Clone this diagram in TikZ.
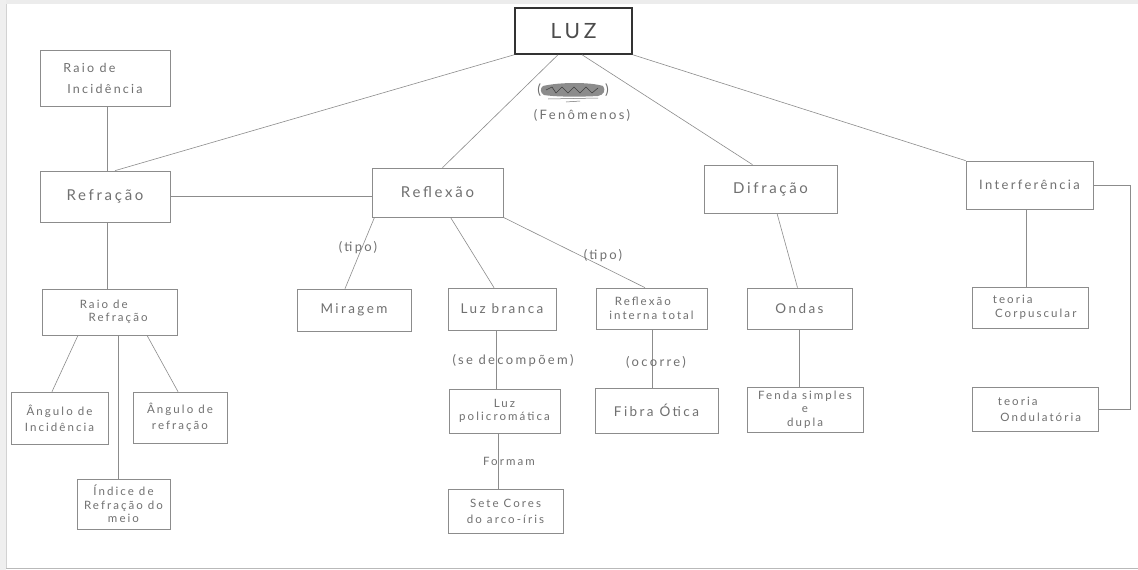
\documentclass[tikz,border=0pt]{standalone}
\usepackage{fontspec}
\setmainfont[LetterSpace=18]{Lato}
\definecolor{ink}{HTML}{707070}
\definecolor{edge}{HTML}{8C8C8C}
\definecolor{frame}{HTML}{E4E4E4}
\begin{document}
\begin{tikzpicture}[x=1pt,y=-1pt,
  box/.style={draw=edge, line width=0.7pt, inner sep=0pt, text=ink, align=center},
  big/.style={font=\fontsize{15}{17}\selectfont},
  mid/.style={font=\fontsize{13.5}{16}\selectfont},
  two/.style={font=\fontsize{11.5}{13.5}\selectfont},
  link/.style={draw=edge, line width=0.6pt},
  lbl/.style={text=ink, font=\fontsize{13}{15}\selectfont, inner sep=1pt}]
% page and scanner frame
\useasboundingbox (0,0) rectangle (1138,570);
\fill[white] (0,0) rectangle (1138,570);
\fill[frame!70] (0,0) rectangle (1138,4);
\fill[frame!60] (0,0) rectangle (6,570);
\draw[gray!35, line width=0.8pt] (6.5,4) -- (6.5,568);
\draw[gray!55, line width=1.2pt] (6,568.8) -- (1138,568.8);

% root
\node[box, draw=black!80, line width=1.5pt, minimum width=117, minimum height=46,
      font=\fontsize{21}{24}\selectfont, text=black!70] (luz) at (573.5,31) {LUZ};

% phenomena
\node[box, font=\fontsize{12.5}{21}\selectfont, minimum width=130, minimum height=56] (rinc) at (105,78) {Raio de\hspace*{2.5em}\\Incidência};
\node[box, big, minimum width=130, minimum height=51] (refr) at (105,196.5) {Refração};
\node[box, big, minimum width=131, minimum height=49] (refl) at (437.5,192.5) {Reflexão};
\node[box, big, minimum width=133, minimum height=48] (difr) at (770.5,189) {Difração};
\node[box, font=\fontsize{13}{15}\selectfont, minimum width=127, minimum height=48] (interf) at (1029.5,185) {Interferência};

% second level
\node[box, two, minimum width=135, minimum height=46] (rrefr) at (109.5,312) {Raio de\hspace*{1em}\\\hspace*{1.5em}Refração};
\node[box, mid, minimum width=114, minimum height=42] (mirag) at (354,310) {Miragem};
\node[box, mid, minimum width=108, minimum height=42] (lbranca) at (502,309) {Luz branca};
\node[box, two, minimum width=111, minimum height=41] (rit) at (651.5,308.5) {Reflexão\hspace*{1.5em}\\interna total};
\node[box, mid, minimum width=105, minimum height=41] (ondas) at (799.5,308.5) {Ondas};
\node[box, two, minimum width=116, minimum height=41] (tcorp) at (1030,307.5) {teoria\hspace*{3em}\\\hspace*{1em}Corpuscular};

% third level
\node[box, font=\fontsize{11.5}{16}\selectfont, minimum width=97, minimum height=52] (ainc) at (59.5,418) {Ângulo de\\Incidência};
\node[box, font=\fontsize{11.5}{16}\selectfont, minimum width=94, minimum height=51] (aref) at (180,417.5) {Ângulo de\\refração};
\node[box, two, minimum width=93, minimum height=50] (indice) at (123.5,504) {Índice de\\Refração do\\meio};
\node[box, two, minimum width=111, minimum height=44] (lpoli) at (504.5,411) {Luz\\policromática};
\node[box, mid, minimum width=123, minimum height=45] (fibra) at (656.5,410.5) {Fibra Ótica};
\node[box, two, minimum width=116, minimum height=45] (fenda) at (805,409.5) {Fenda simples\\e\\dupla};
\node[box, font=\fontsize{11.5}{16}\selectfont, minimum width=126, minimum height=44] (tond) at (1035,409) {teoria\hspace*{3em}\\\hspace*{1em}Ondulatória};
\node[box, font=\fontsize{11.5}{16}\selectfont, minimum width=115, minimum height=44] (sete) at (505.5,511) {Sete Cores\\do arco-íris};

% connectors from the root
\draw[link] (luz.south west) -- ([xshift=10]refr.north);
\draw[link] ([xshift=-15.5]luz.south) -- ([xshift=5]refl.north);
\draw[link] ([xshift=8.5]luz.south) -- ([xshift=-18]difr.north);
\draw[link] (luz.south east) -- (interf.north west);

% refraction branch
\draw[link] ([xshift=2]rinc.south) -- ([xshift=2]refr.north);
\draw[link] (refr.east) -- (refr.east -| refl.west);
\draw[link] ([xshift=2]refr.south) -- ([xshift=-2.5]rrefr.north);
\draw[link] ([xshift=-31.5]rrefr.south) -- ([xshift=-7.5]ainc.north);
\draw[link] ([xshift=8.5]rrefr.south) -- ([xshift=-5.5]indice.north);
\draw[link] ([xshift=37.5]rrefr.south) -- ([xshift=-2]aref.north);

% reflection branch
\draw[link] ([xshift=-63]refl.south) -- ([xshift=-9]mirag.north);
\draw[link] ([xshift=13]refl.south) -- ([xshift=-8]lbranca.north);
\draw[link] (refl.south east) -- ([xshift=-6.5]rit.north);
\draw[link] ([xshift=-6]lbranca.south) -- ([xshift=-8.5]lpoli.north);
\draw[link] ([xshift=-6.5]lpoli.south) -- ([xshift=-7.5]sete.north);
\draw[link] ([xshift=0.5]rit.south) -- ([xshift=-4.5]fibra.north);

% diffraction and interference branches
\draw[link] ([xshift=6.5]difr.south) -- ([xshift=-2]ondas.north);
\draw[link] ([xshift=-0.5]ondas.south) -- ([xshift=-6]fenda.north);
\draw[link] ([xshift=-3.5]interf.south) -- ([xshift=-4]tcorp.north);
\draw[link] (interf.east) -- ++(37,0) |- (tond.east);

% link words
\node[lbl] (t1) at (358,248) {(tipo)};
\node[lbl] (t2) at (603,256) {(tipo)};
\node[lbl] (t3) at (513,361) {(se decompõem)};
\node[lbl] (t4) at (656,362) {(ocorre)};
\node[lbl, font=\fontsize{11.5}{13}\selectfont] (t5) at (509,461) {Formam};
\node[lbl] (t6) at (582,115) {(Fenômenos)};

% crossed-out word above the link word
\fill[black!45] (543,86) .. controls (560,82) and (590,82) .. (603,86)
  .. controls (606,90) and (604,95) .. (598,96)
  .. controls (580,97) and (556,97) .. (544,95)
  .. controls (540,93) and (540,88) .. (543,86);
\draw[black!75, line width=0.6pt] (546,90) -- (552,87) -- (556,93) -- (562,87) -- (568,93)
  -- (574,87) -- (580,93) -- (586,87) -- (592,93) -- (598,88);
\node[lbl, font=\fontsize{14}{16}\selectfont] (s1) at (573,90) {(\hspace{64pt})};
\draw[ink, line width=0.5pt] (548,99) -- (598,98);
\draw[ink, line width=0.5pt] (566,102) -- (580,101);
\end{tikzpicture}
\end{document}
